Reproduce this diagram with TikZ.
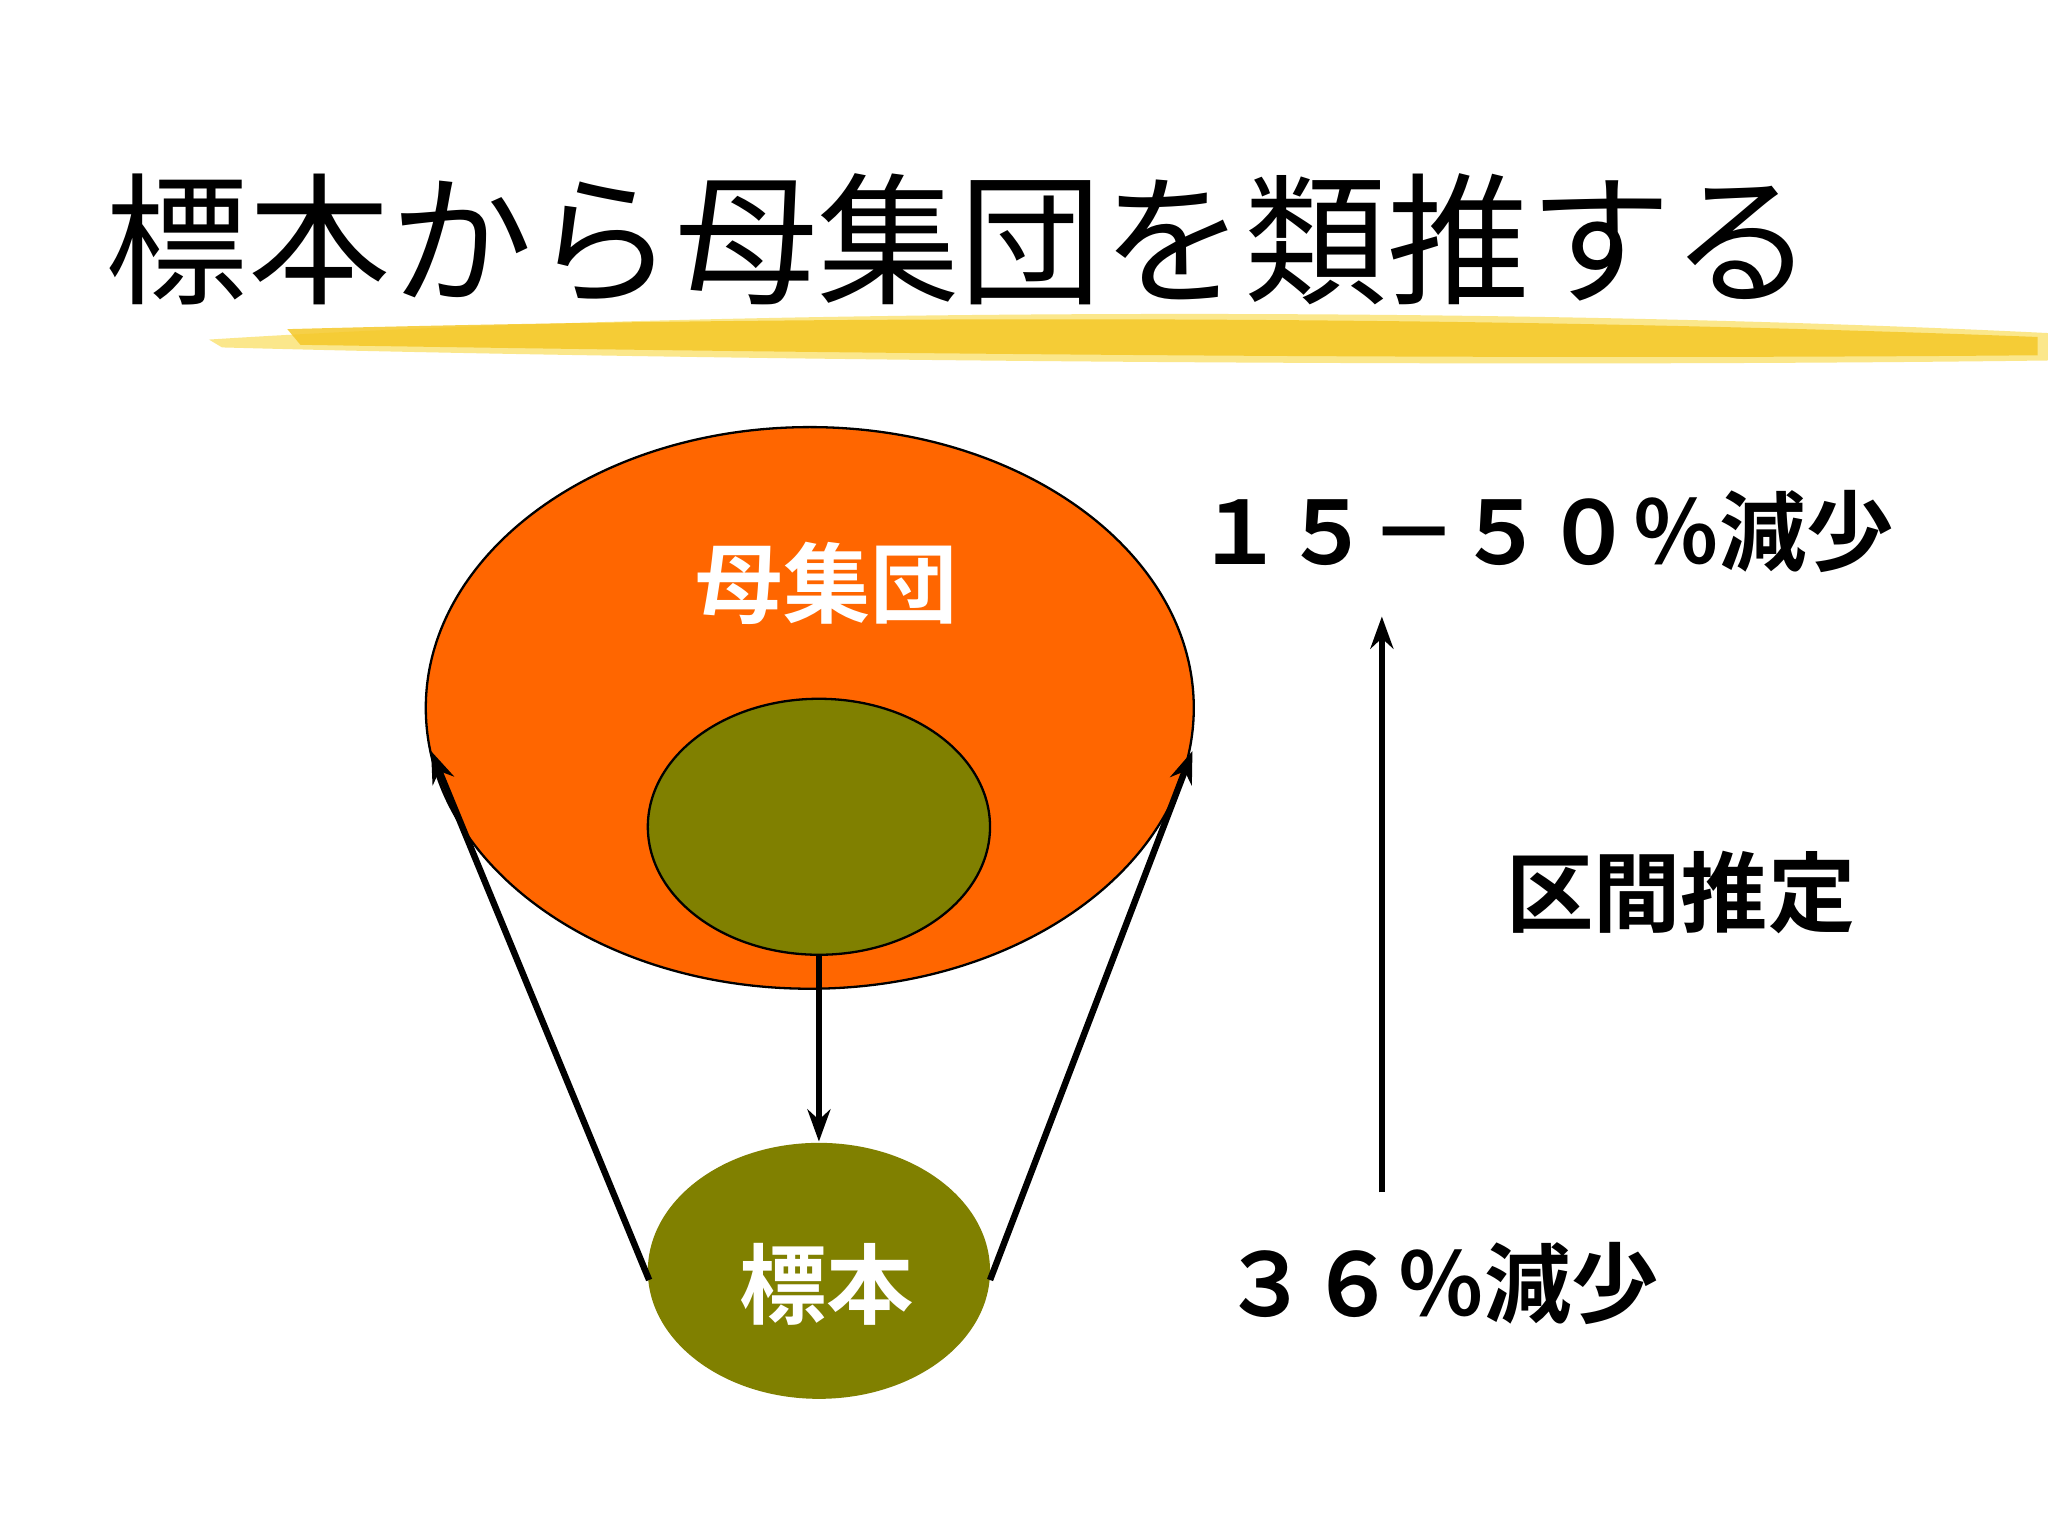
\documentclass[tikz,border=0pt]{standalone}
\usepackage{fontspec}
\newfontfamily\jp{Noto Sans CJK JP}
\newfontfamily\jpb{Noto Sans CJK JP Bold}
\usetikzlibrary{arrows.meta}
\definecolor{brush}{RGB}{245,200,40}
\definecolor{brushl}{RGB}{250,225,110}
\definecolor{org}{RGB}{255,102,0}
\definecolor{olv}{RGB}{128,128,0}
\tikzset{conn/.style={draw=black,line width=1.4pt,-{Stealth[length=7pt,width=5pt]}},
 lab/.style={font=\jpb\fontsize{19}{22}\selectfont}}
\begin{document}
\begin{tikzpicture}[x=0.01cm,y=-0.01cm]
\useasboundingbox (0,0) rectangle (1568,1176);
\fill[white] (0,0) rectangle (1568,1176);
% brush
\fill[brushl,opacity=0.8] (160,260) .. controls (500,238) and (1100,232) .. (1568,255) -- (1568,276) .. controls (1100,282) and (500,275) .. (170,266) -- cycle;
\fill[brush,opacity=0.85] (220,252) .. controls (600,242) and (1100,240) .. (1560,258) -- (1560,272) .. controls (1100,276) and (600,270) .. (230,264) -- cycle;
\node[font=\jp\fontsize{31}{36}\selectfont] (title) at (735,183) {標本から母集団を類推する};
\draw[fill=org,line width=0.5pt] (620,542) ellipse [x radius=294,y radius=215];
\draw[fill=olv,line width=0.5pt] (627,633) ellipse [x radius=131,y radius=98];
\fill[olv] (627,973) ellipse [x radius=131,y radius=98];
\coordinate (inb) at (627,731);
\coordinate (smt) at (627,874);
\coordinate (sml) at (497,980);
\coordinate (smr) at (758,980);
\coordinate (pl) at (330,575);
\coordinate (pr) at (913,575);
\coordinate (ab) at (1058,913);
\coordinate (at) at (1058,472);
\node[lab,text=white] (pop) at (633,447) {母集団};
\node[lab,text=white] (smp) at (633,983) {標本};
\draw[conn] (inb) -- (smt);
\draw[conn] (sml) -- (pl);
\draw[conn] (smr) -- (pr);
\draw[conn] (ab) -- (at);
\node[lab] (t1) at (1183,407) {１５－５０％減少};
\node[lab] (t2) at (1287,683) {区間推定};
\node[lab] (t3) at (1103,983) {３６％減少};
\end{tikzpicture}
\end{document}
